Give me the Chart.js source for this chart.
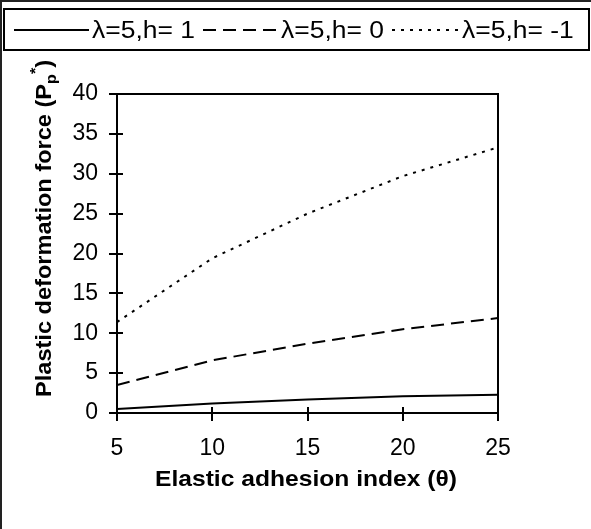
<!DOCTYPE html>
<html><head><meta charset="utf-8">
<script src="https://cdn.jsdelivr.net/npm/chart.js@4/dist/chart.umd.min.js"></script>
<style>html,body{margin:0;padding:0;background:#fff}canvas{display:block}</style>
</head><body>
<canvas id="c" width="591" height="529"></canvas>
<script>
const xValues = [5, 10, 15, 20, 25];
const seriesH1 = [0.5, 1.2, 1.7, 2.1, 2.3];
const seriesH0 = [3.5, 6.6, 8.7, 10.5, 11.9];
const seriesHm1 = [11.4, 19.4, 25.0, 29.7, 33.3];
const seriesLabels = ['λ=5,h= 1', 'λ=5,h= 0', 'λ=5,h= -1'];
const xTicks = [5, 10, 15, 20, 25];
const yTicks = [0, 5, 10, 15, 20, 25, 30, 35, 40];
const xTitle = 'Elastic adhesion index (θ)';

const FONT = '"Liberation Sans", Arial, sans-serif';
const toPts = arr => xValues.map((x, i) => ({x: x, y: arr[i]}));

const dashes = [[], [13, 7], [3, 6]];
const sampleLen = [75, 75, 67];

function stretchText(ctx, text, x, y, sx) {
  ctx.save();
  ctx.translate(x, y);
  ctx.scale(sx, 1);
  ctx.fillText(text, 0, 0);
  ctx.restore();
}

const decor = {
  id: 'decor',
  afterDraw(chart) {
    const ctx = chart.ctx;
    const a = chart.chartArea;
    const xs = chart.scales.x, ys = chart.scales.y;
    ctx.save();
    // outer frame (top and left)
    ctx.strokeStyle = '#222';
    ctx.lineWidth = 2;
    ctx.beginPath();
    ctx.moveTo(1, 529); ctx.lineTo(1, 1); ctx.lineTo(591, 1);
    ctx.stroke();
    // plot frame top/right
    ctx.strokeStyle = '#000';
    ctx.beginPath();
    ctx.moveTo(a.left, a.top); ctx.lineTo(a.right, a.top); ctx.lineTo(a.right, a.bottom);
    ctx.stroke();
    // ticks crossing axes
    ctx.beginPath();
    yTicks.forEach(v => {
      const p = Math.round(ys.getPixelForValue(v));
      ctx.moveTo(a.left - 8, p); ctx.lineTo(a.left + 6, p);
    });
    xTicks.forEach(v => {
      const p = Math.round(xs.getPixelForValue(v));
      ctx.moveTo(p, a.bottom - 6); ctx.lineTo(p, a.bottom + 8);
    });
    ctx.stroke();
    // legend box
    ctx.lineWidth = 2;
    ctx.strokeStyle = '#000';
    ctx.strokeRect(4, 9, 585, 41);
    ctx.font = '23px ' + FONT;
    ctx.fillStyle = '#000';
    ctx.textBaseline = 'alphabetic';
    const lsx = 103 / ctx.measureText(seriesLabels[0]).width;
    let x = 14;
    chart.data.datasets.forEach((ds, i) => {
      ctx.save();
      ctx.lineWidth = ds.borderWidth;
      ctx.setLineDash(ds.borderDash || []);
      ctx.beginPath();
      ctx.moveTo(x, 30); ctx.lineTo(x + sampleLen[i], 30);
      ctx.stroke();
      ctx.restore();
      x += sampleLen[i] + 3;
      stretchText(ctx, ds.label, x, 38, lsx);
      x += ctx.measureText(ds.label).width * lsx + 8;
    });
    // x title
    ctx.font = 'bold 22px ' + FONT;
    ctx.textAlign = 'center';
    const xsx = 302 / ctx.measureText(xTitle).width;
    stretchText(ctx, xTitle, 306, 486, xsx);
    // y title with subscript/superscript
    const parts = [
      {t: 'Plastic deformation force (P', f: 'bold 22px ', dy: 0},
      {t: 'p', f: 'bold 15px ', dy: 5},
      {t: '*', f: 'bold 15px ', dy: -11},
      {t: ')', f: 'bold 22px ', dy: 0}
    ];
    let total = 0;
    parts.forEach(p => { ctx.font = p.f + FONT; p.w = ctx.measureText(p.t).width; total += p.w; });
    const ysx = 337 / total;
    ctx.translate(51, 228.5 + total * ysx / 2);
    ctx.rotate(-Math.PI / 2);
    ctx.scale(ysx, 1);
    ctx.textAlign = 'left';
    let px = 0;
    parts.forEach(p => { ctx.font = p.f + FONT; ctx.fillText(p.t, px, p.dy); px += p.w; });
    ctx.restore();
  }
};

new Chart(document.getElementById('c'), {
  type: 'line',
  data: {
    datasets: [
      {label: seriesLabels[0], data: toPts(seriesH1), borderColor: '#000', borderWidth: 2, borderDash: dashes[0], pointRadius: 0, fill: false, tension: 0},
      {label: seriesLabels[1], data: toPts(seriesH0), borderColor: '#000', borderWidth: 2, borderDash: dashes[1], pointRadius: 0, fill: false, tension: 0},
      {label: seriesLabels[2], data: toPts(seriesHm1), borderColor: '#000', borderWidth: 2, borderDash: dashes[2], pointRadius: 0, fill: false, tension: 0}
    ]
  },
  options: {
    responsive: false,
    animation: false,
    events: [],
    layout: {padding: {left: 0, top: 94, right: 93, bottom: 0}},
    plugins: {legend: {display: false}, tooltip: {enabled: false}, title: {display: false}},
    scales: {
      x: {
        type: 'linear', min: 5, max: 25,
        afterBuildTicks: s => { s.ticks = xTicks.map(v => ({value: v})); },
        afterFit: s => { s.height = 116; },
        grid: {display: false, drawTicks: false},
        border: {display: true, color: '#000', width: 2},
        ticks: {color: '#000', font: {family: FONT, size: 23}, padding: 22, maxRotation: 0}
      },
      y: {
        type: 'linear', min: 0, max: 40,
        afterBuildTicks: s => { s.ticks = yTicks.map(v => ({value: v})); },
        afterFit: s => { s.width = 117; },
        grid: {display: false, drawTicks: false},
        border: {display: true, color: '#000', width: 2},
        ticks: {color: '#000', font: {family: FONT, size: 23}, padding: 19}
      }
    }
  },
  plugins: [decor]
});
</script>
</body></html>
